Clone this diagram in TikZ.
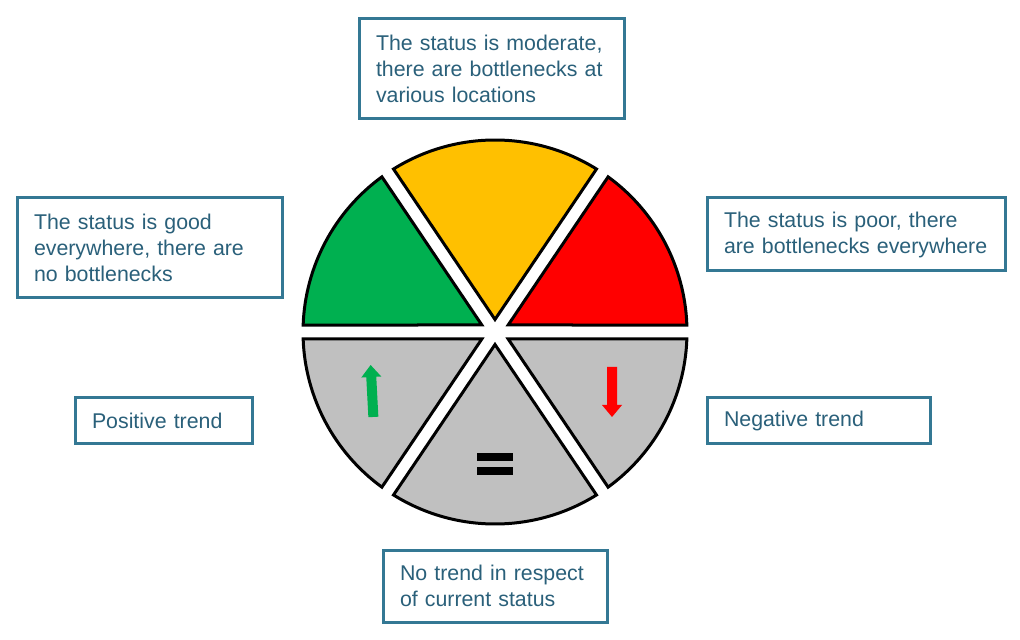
\documentclass[tikz,border=0pt]{standalone}
\usepackage{fontspec}
\setmainfont{Liberation Sans}
\usetikzlibrary{calc}
\definecolor{boxline}{RGB}{52,120,148}
\definecolor{boxtext}{RGB}{42,96,122}
\definecolor{sgreen}{RGB}{0,176,80}
\definecolor{syellow}{RGB}{255,192,0}
\definecolor{sred}{RGB}{255,0,0}
\definecolor{sgray}{RGB}{192,192,192}
\newcommand\drawsector[3]{%
  \pgfmathsetmacro\secbis{(#2+#3)/2}%
  \pgfmathsetmacro\secapd{7/sin((#3-#2)/2)}%
  \pgfmathsetmacro\secsa{#2+asin(7/192)}%
  \pgfmathsetmacro\secea{#3-asin(7/192)}%
  \filldraw[sectorstyle, fill=#1] ($(C)+(\secbis:\secapd)$) -- ($(C)+(\secsa:192)$)
    arc[start angle=\secsa, end angle=\secea, radius=192] -- cycle;
}
\begin{document}
\begin{tikzpicture}[x=0.75pt,y=0.75pt,
  sectorstyle/.style={draw=black, line width=2.25pt, line join=miter},
  infobox/.style={draw=boxline, line width=2.25pt, fill=white, rectangle,
    align=left, text=boxtext, inner xsep=12.75pt, inner ysep=0pt,
    font=\fontsize{16pt}{19.5pt}\selectfont}]
\useasboundingbox (0,0) rectangle (1020,639);
\fill[white] (0,0) rectangle (1020,639);
\coordinate (C) at (495,307);
% sectors
\drawsector{sgreen}{124}{180}
\drawsector{syellow}{56}{124}
\drawsector{sred}{0}{56}
\drawsector{sgray}{180}{236}
\drawsector{sgray}{236}{304}
\drawsector{sgray}{304}{360}
% trend symbols
\fill[sgreen, rotate around={3:(372,248)}]
  (367,222) -- (377,222) -- (377,262) -- (382,262) -- (372,274) -- (362,262) -- (367,262) -- cycle;
\fill[sred]
  (607,272) -- (617,272) -- (617,234) -- (622,234) -- (612,222) -- (602,234) -- (607,234) -- cycle;
\fill[black] (477,178) rectangle (513,186);
\fill[black] (477,164) rectangle (513,172);
% boxes
\node[infobox, minimum width=198.75pt, minimum height=75pt, text width=173.25pt] (moderate) at (491.5,570)
  {The status is moderate,\\there are bottlenecks at\\various locations};
\node[infobox, minimum width=198.75pt, minimum height=75pt, text width=173.25pt] (good) at (149.5,391)
  {The status is good\\everywhere, there are\\no bottlenecks};
\node[infobox, minimum width=223.5pt, minimum height=54.75pt, text width=198pt] (poor) at (856,404.5)
  {The status is poor, there\\are bottlenecks everywhere};
\node[infobox, minimum width=132.75pt, minimum height=34.5pt, text width=107.25pt] (positive) at (163.5,218)
  {Positive trend};
\node[infobox, minimum width=167.25pt, minimum height=34.5pt, text width=141.75pt] (negative) at (818.5,218)
  {Negative trend};
\node[infobox, minimum width=168pt, minimum height=54pt, text width=142.5pt] (notrend) at (495,53)
  {No trend in respect\\of current status};
\end{tikzpicture}
\end{document}
